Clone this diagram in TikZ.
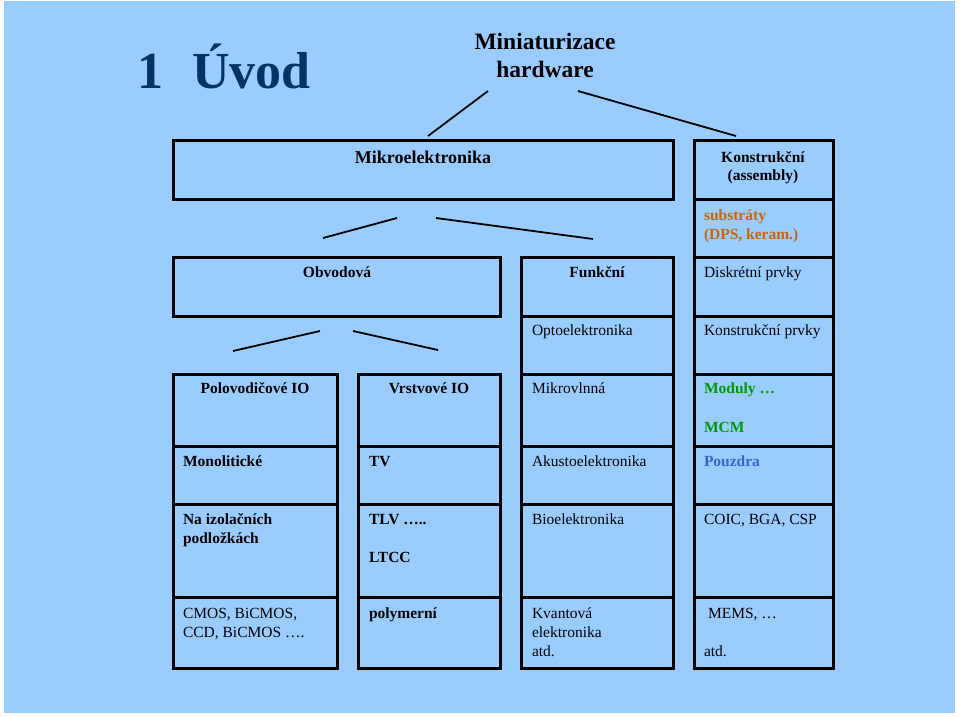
\documentclass[tikz,border=0pt]{standalone}
\usepackage{fontspec}
\setmainfont{Liberation Serif}
\definecolor{bgblue}{HTML}{99CCFF}
\definecolor{titleblue}{HTML}{003366}
\definecolor{orangetxt}{HTML}{CC6600}
\definecolor{greentxt}{HTML}{009900}
\definecolor{bluetxt}{HTML}{3366CC}
\tikzset{
  cellbox/.style={draw=black, line width=3pt, inner sep=0pt, outer sep=0pt, anchor=north west},
  conn/.style={draw=black, line width=1.8pt},
  txt/.style={inner sep=0pt, outer sep=0pt, anchor=base west, font=\fontsize{15.5}{18.6}\selectfont},
  txtc/.style={txt, anchor=base},
  btxt/.style={txt, font=\fontsize{15.5}{18.6}\selectfont\bfseries},
  btxtc/.style={btxt, anchor=base},
}
\newcommand{\mkcell}[5]{\node[cellbox, minimum width={(#4-#2)*1pt}, minimum height={(#5-#3)*1pt}] (#1) at (#2,#3) {};}
\begin{document}
\begin{tikzpicture}[x=1pt, y=-1pt]
\useasboundingbox (0,0) rectangle (960,716);
\fill[white] (0,0) rectangle (960,716);
\fill[bgblue] (4,1) rectangle (955,713);

% title
\node[inner sep=0pt, anchor=base west, text=titleblue, font=\fontsize{52}{60}\selectfont\bfseries] (title) at (137,88) {1\hspace{29pt}Úvod};
\node[inner sep=0pt, anchor=base, font=\fontsize{23.5}{28}\selectfont\bfseries] (mini1) at (545,49) {Miniaturizace};
\node[inner sep=0pt, anchor=base, font=\fontsize{23.5}{28}\selectfont\bfseries] (mini2) at (545,77) {hardware};

% level 1
\mkcell{mikro}{173}{140}{673}{199}
\mkcell{konstr}{694}{140}{833}{199}
% right column
\mkcell{subst}{694}{199}{833}{257}
\mkcell{diskr}{694}{257}{833}{316}
\mkcell{kprvky}{694}{316}{833}{374}
\mkcell{moduly}{694}{374}{833}{446}
\mkcell{pouzdra}{694}{446}{833}{504}
\mkcell{coic}{694}{504}{833}{597}
\mkcell{mems}{694}{597}{833}{668}
% Obvodova
\mkcell{obvod}{173}{257}{500}{316}
% Funkcni column
\mkcell{funkc}{521}{257}{673}{316}
\mkcell{opto}{521}{316}{673}{374}
\mkcell{mikrovl}{521}{374}{673}{446}
\mkcell{akust}{521}{446}{673}{504}
\mkcell{bio}{521}{504}{673}{597}
\mkcell{kvant}{521}{597}{673}{668}
% Polovodicove column
\mkcell{polo}{173}{374}{337}{446}
\mkcell{mono}{173}{446}{337}{504}
\mkcell{izol}{173}{504}{337}{597}
\mkcell{cmos}{173}{597}{337}{668}
% Vrstvove column
\mkcell{vrst}{358}{374}{500}{446}
\mkcell{tv}{358}{446}{500}{504}
\mkcell{tlv}{358}{504}{500}{597}
\mkcell{poly}{358}{597}{500}{668}

% connectors
\coordinate (c1a) at (488,91); \coordinate (c1b) at (428,136);
\coordinate (c2a) at (578,91); \coordinate (c2b) at (736,136);
\coordinate (c3a) at (397,218); \coordinate (c3b) at (323,238);
\coordinate (c4a) at (436,218); \coordinate (c4b) at (593,239);
\coordinate (c5a) at (320,331); \coordinate (c5b) at (233,351);
\coordinate (c6a) at (353,331); \coordinate (c6b) at (438,350);
\draw[conn] (c1a) -- (c1b);
\draw[conn] (c2a) -- (c2b);
\draw[conn] (c3a) -- (c3b);
\draw[conn] (c4a) -- (c4b);
\draw[conn] (c5a) -- (c5b);
\draw[conn] (c6a) -- (c6b);

% texts
\node[btxtc, font=\fontsize{18}{21}\selectfont\bfseries] (t-mikro) at (423,163) {Mikroelektronika};
\node[btxtc] (t-konstr1) at (763,162) {Konstrukční};
\node[btxtc] (t-konstr2) at (763,180) {(assembly)};
\node[btxt, text=orangetxt] (t-subst1) at (704,220) {substráty};
\node[btxt, text=orangetxt] (t-subst2) at (704,239) {(DPS, keram.)};
\node[btxtc] (t-obvod) at (337,277) {Obvodová};
\node[btxtc] (t-funkc) at (597,277) {Funkční};
\node[txt] (t-diskr) at (704,277) {Diskrétní prvky};
\node[txt] (t-opto) at (532,335) {Optoelektronika};
\node[txt] (t-kprvky) at (704,335) {Konstrukční prvky};
\node[btxtc] (t-polo) at (255,393) {Polovodičové IO};
\node[btxtc] (t-vrst) at (429,393) {Vrstvové IO};
\node[txt] (t-mikrovl) at (532,393) {Mikrovlnná};
\node[btxt, text=greentxt] (t-moduly) at (704,393) {Moduly …};
\node[btxt, text=greentxt] (t-mcm) at (704,432) {MCM};
\node[btxt] (t-mono) at (183,466) {Monolitické};
\node[btxt] (t-tv) at (369,466) {TV};
\node[txt] (t-akust) at (532,466) {Akustoelektronika};
\node[btxt, text=bluetxt] (t-pouzdra) at (704,466) {Pouzdra};
\node[btxt] (t-izol1) at (183,524) {Na izolačních};
\node[btxt] (t-izol2) at (183,543) {podložkách};
\node[btxt] (t-tlv) at (369,524) {TLV …..};
\node[btxt] (t-ltcc) at (369,562) {LTCC};
\node[txt] (t-bio) at (532,524) {Bioelektronika};
\node[txt] (t-coic) at (704,524) {COIC, BGA, CSP};
\node[txt] (t-cmos1) at (183,618) {CMOS, BiCMOS,};
\node[txt] (t-cmos2) at (183,637) {CCD, BiCMOS ….};
\node[btxt] (t-poly) at (369,618) {polymerní};
\node[txt] (t-kvant1) at (532,618) {Kvantová};
\node[txt] (t-kvant2) at (532,637) {elektronika};
\node[txt] (t-kvant3) at (532,656) {atd.};
\node[txt] (t-mems) at (708,618) {MEMS, …};
\node[txt] (t-atd) at (704,656) {atd.};
\end{tikzpicture}
\end{document}
